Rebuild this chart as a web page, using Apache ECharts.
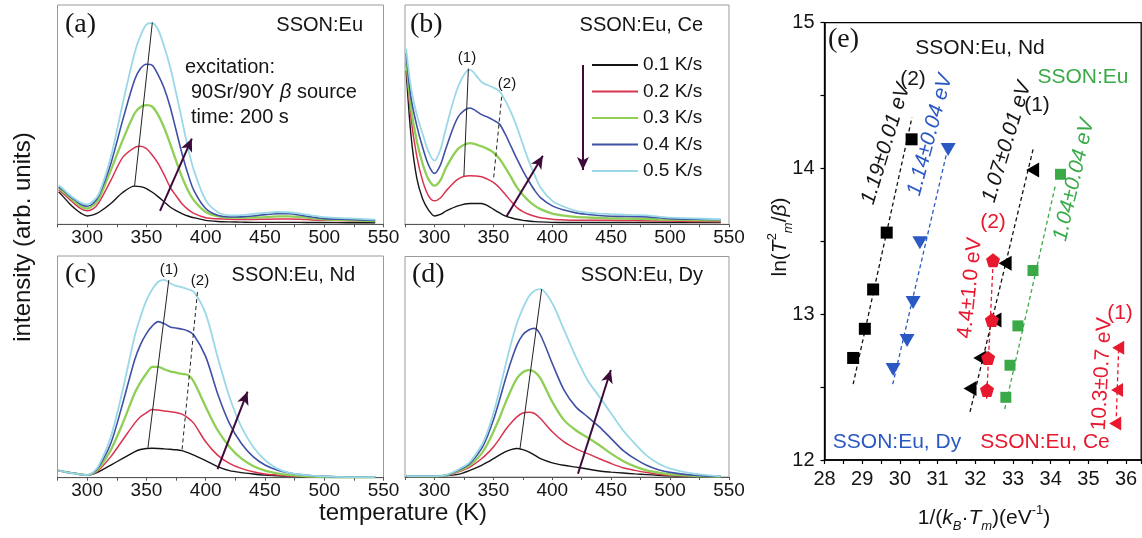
<!DOCTYPE html>
<html><head><meta charset="utf-8">
<script src="https://cdn.jsdelivr.net/npm/echarts@6/dist/echarts.min.js"></script>
<style>html,body{margin:0;padding:0;background:#fff}#c{width:1142px;height:538px}</style>
</head><body><div id="c"></div>
<script>
// ---------- DATA ----------
const rates = ['0.1 K/s','0.2 K/s','0.3 K/s','0.4 K/s','0.5 K/s'];
const T = [276,280,285,290,295,300,305,310,320,330,340,345,350,355,360,365,370,375,380,385,390,400,410,420,430,440,450,460,470,480,490,500,520,543];
// (a) SSON:Eu
const aBlack = [14.8,12.5,9.5,7,5,3.8,4.3,5.5,9.5,14.5,17.4,17.2,16.3,14.6,12.5,10.2,7.9,6.2,4.9,3.8,3,1.8,1.3,1.1,1,0.9,0.9,0.9,0.9,0.9,0.8,0.8,0.7,0.7];
const aRed   = [15.8,14,11.5,9,7,6.2,7,10,20,30.5,35,35.6,34.5,31.5,27.7,22.5,17,13,9.4,6.8,5,3,2.5,2.3,2.2,2.2,2.3,2.4,2.4,2.3,2,1.8,1.6,1.4];
const aGreen = [16.5,14.8,12.5,10,8,7.2,8.5,11.7,24.7,38.4,50.5,53.5,54.3,53.6,49.8,44,36.8,29,21.6,15.5,11,5.6,3.7,3,3,3.1,3.3,3.6,3.6,3.3,2.8,2.3,1.9,1.5];
const aBlue  = [17,15.5,13,11,9,8.2,9.5,13.2,27.7,47.5,65.8,71,73,72.5,68,62,53.6,43,32.3,23,15.5,7.2,4.1,3.3,3.4,3.8,4.4,4.8,4.8,4.1,3.3,2.6,2.2,1.8];
const aCyan  = [17.8,16,13.5,11.5,9.8,9.1,10.5,14,30.7,55,78,86,91,91.8,88.6,81,71.8,60,47.5,35,24.7,11,5.6,4.1,4.2,4.7,5.2,5.6,5.5,4.9,4,3.3,2.7,2.1];
// (b) SSON:Eu, Ce
const bBlack = [70,41,21,11.5,6.5,3.8,4.5,6.1,8.4,9.5,9.5,8.5,6.9,5.3,3.8,3,2.3,1.8,1.5,1.2,1.1,0.9,0.8,0.8,0.8,0.8,0.8,0.8,0.8,0.8,0.8,0.8,0.8,0.8];
const bRed   = [74,48.9,31,19.8,13,10.7,12,15.3,20.6,22.1,21.7,20.6,19.1,16.8,13.7,10.5,7.6,5.8,4.6,3.7,3,2.3,2,1.8,1.8,1.8,1.8,1.7,1.7,1.6,1.5,1.5,1.3,1.2];
const bGreen = [76,53.4,38,27.5,20.5,17.6,20,26,34.4,37,35.5,34.4,32.8,30,26,21.5,16.8,13.5,10.7,8.5,6.9,4.9,4,3.4,3.1,2.9,2.7,2.6,2.5,2.4,2.2,2.1,1.9,1.8];
const bBlue  = [78,58,45,35,27,23.2,27,35,48.9,53,50,48.9,47.5,45.8,41.2,35.5,29.8,24.5,19.8,15.5,12.2,8.4,6.5,5.2,4.5,4,3.7,3.6,3.5,3.4,3,2.6,2.3,2.1];
const bCyan  = [80,62.6,50,41.2,33,29,34,44.3,62.6,70.5,64.9,63.5,62.3,60.8,56.5,51,44.3,36.5,29,22.5,16.8,10.7,8,6.1,5.3,4.9,4.6,4.4,4.2,4.1,3.5,3,2.7,2.3];
// (c) SSON:Eu, Nd
const cBlack = [3.2,2.8,2.3,2,1.5,1.2,1.6,2.7,5.7,8.7,11.7,12.7,13.2,13.3,13.2,13,12.8,12.6,12.2,11.3,10.2,7.7,5,3.2,2.3,1.7,1.2,0.9,0.7,0.5,0.4,0.3,0.2,0.2];
const cRed   = [3.2,2.8,2.3,1.9,1.4,1.2,1.8,3.5,9.5,17,24.5,27.5,29.3,30.8,30.5,30.1,29.8,29.4,28.7,27,24.5,16.2,10.2,6.5,4.2,2.7,1.7,1.2,0.8,0.6,0.4,0.3,0.2,0.2];
const cGreen = [3.2,2.8,2.3,1.9,1.4,1.2,2,4.2,12.5,24.5,38,43,47,50,50,48.9,48,47.4,46.8,46.3,43.3,32,21.5,14,8.7,5.3,3.2,2,1.3,0.8,0.5,0.4,0.2,0.2];
const cBlue  = [3.2,2.8,2.3,1.9,1.4,1.2,2.2,5,15.5,33.5,53,60,65,68.5,70.4,69.5,68,67.5,67,66.2,64.4,54.6,38,24.5,15.5,9.5,5.7,3.5,2.2,1.4,0.9,0.6,0.3,0.2];
const cCyan  = [3.2,2.8,2.3,1.9,1.4,1.2,2.4,5.7,18.5,39.5,63.6,72.5,80,85,88.4,89.2,87.7,86.5,85.9,85,83.9,74,54.6,36.5,23,14,8,4.2,2.3,1.4,0.9,0.6,0.3,0.2];
// (d) SSON:Eu, Dy
const dBlack = [0.5,0.4,0.3,0.3,0.3,0.3,0.4,0.6,1.2,3,5.3,6.7,8.3,9.9,11.4,12.4,12.9,12.4,11.4,9.9,8.3,6.4,5.3,4.5,3.6,2.7,2.2,1.8,1.4,1.1,0.8,0.5,0.3,0.2];
const dRed   = [0.5,0.4,0.4,0.4,0.4,0.4,0.5,0.7,2.3,4.5,8.3,10.7,13.6,17.2,21.2,24.5,27.3,29,29.4,28.8,26.5,20.5,15.9,12.9,10.6,8.3,6.1,4.2,3,2,1.3,0.8,0.4,0.2];
const dGreen = [0.5,0.4,0.4,0.4,0.4,0.4,0.5,0.7,2.7,5.3,10.6,15,20.5,26.5,33.3,39.5,44.7,47.5,48.5,47.7,44.7,34.1,25.8,21.2,17.9,14.4,10.6,7.3,4.8,3,2,1.2,0.5,0.2];
const dBlue  = [0.5,0.4,0.4,0.4,0.4,0.4,0.5,0.8,3,6.1,12.9,18.5,25.8,34.5,43.9,52.5,59.8,64.5,66.7,67.4,64.4,51.5,39.4,31.8,27.3,22.7,17.4,12.1,8.3,5.3,3.3,2.1,0.8,0.2];
const dCyan  = [0.5,0.4,0.4,0.4,0.4,0.4,0.5,0.9,3.3,6.8,14.4,20.5,28.8,39,50,60.5,69.7,76.5,81.8,84.5,85.2,78.8,66.7,54.5,43.9,36.4,28.8,21.2,15.2,9.8,6.1,3.8,1.5,0.3];
// peak guide lines and arrows (data units)
const aPeak = [[340,17.4],[355,92]];
const aArrow = [[361.5,6.1],[388.3,39.1]];
const bPeak1 = [[325,22],[328.8,71]];
const bPeak2 = [[350.3,21.4],[357.3,59.5]];
const bArrow = [[361,3.4],[392,31.3]];
const bLegendArrow = [[426,72.6],[426,24.8]];
const cPeak1 = [[351.3,13.5],[368.9,89.2]];
const cPeak2 = [[380.1,12.8],[393.3,85]];
const cArrow = [[410,3.9],[435.3,38.8]];
const dPeak = [[372.6,12.9],[391,85.2]];
const dArrow = [[421.8,1.5],[449.7,48.5]];
// (e) Arrhenius-type plot: ln(Tm^2/beta) vs 1/(kB Tm)
const eNd2 = [[28.76,12.70],[29.07,12.90],[29.29,13.17],[29.65,13.56],[30.31,14.20]];
const eDy  = [[29.82,12.62],[30.19,12.82],[30.35,13.08],[30.53,13.49],[31.28,14.13]];
const eNd1 = [[31.86,12.49],[32.12,12.70],[32.52,12.96],[32.79,13.35],[33.52,13.99]];
const eCe2 = [[32.31,12.48],[32.34,12.70],[32.44,12.96],[32.47,13.37]];
const eEu  = [[32.81,12.43],[32.92,12.65],[33.13,12.92],[33.53,13.30],[34.26,13.96]];
const eCe1 = [[35.71,12.25],[35.76,12.48],[35.79,12.77]];
const fitNd2 = [[28.76,12.52],[30.32,14.35]];
const fitDy  = [[29.81,12.52],[31.28,14.15]];
const fitNd1 = [[31.86,12.33],[33.54,14.14]];
const fitCe2 = [[32.30,12.42],[32.47,13.35]];
const fitEu  = [[32.78,12.35],[34.12,13.88]];
const fitCe1 = [[35.74,12.30],[35.80,12.75]];

// ---------- STYLE ----------
const SANS = 'Arial, "Liberation Sans", Helvetica, sans-serif';
const SERIF = '"Times New Roman", "Liberation Serif", serif';
const lineColors = ['#151515','#d8344f','#8fcf56','#3f51a5','#9ad8e8'];
const lineWidths = [1.4,1.5,2.3,1.6,1.8];
const ARROW = '#3d0b3a';
const EBLUE = '#2b59c3', ERED = '#e8182e', EGREEN = '#3aaa48';

const panels = [
  {vals:[aBlack,aRed,aGreen,aBlue,aCyan], grid:{left:57.5,top:5,width:326,height:219.3}},
  {vals:[bBlack,bRed,bGreen,bBlue,bCyan], grid:{left:405,top:5,width:324,height:219.3}},
  {vals:[cBlack,cRed,cGreen,cBlue,cCyan], grid:{left:57.5,top:256,width:326,height:221.7}},
  {vals:[dBlack,dRed,dGreen,dBlue,dCyan], grid:{left:405,top:256.5,width:324,height:220.5}}
];
const ml = (pts, style, arrow) => [
  {coord: pts[0], symbol:'none', lineStyle: style},
  {coord: pts[1], symbol: arrow ? 'arrow' : 'none', symbolSize: arrow ? [9,13] : 0}
];
const solid = {color:'#222', width:1, type:'solid'};
const dashed = {color:'#222', width:1, type:[4,3]};
const arr = {color:ARROW, width:2, type:'solid'};
const annotations = [
  [ml(aPeak,solid), ml(aArrow,arr,true)],
  [ml(bPeak1,solid), ml(bPeak2,dashed), ml(bArrow,arr,true), ml(bLegendArrow,arr,true)],
  [ml(cPeak1,solid), ml(cPeak2,dashed), ml(cArrow,arr,true)],
  [ml(dPeak,solid), ml(dArrow,arr,true)]
];

const grids = [], xAxes = [], yAxes = [], series = [];
panels.forEach((p, gi) => {
  grids.push(Object.assign({show:true, borderColor:'#9a9a9a', borderWidth:1, backgroundColor:'transparent', containLabel:false, outerBoundsMode:'none'}, p.grid));
  xAxes.push({gridIndex:gi, type:'value', min:275, max:550, interval:25,
    axisLine:{show:true, onZero:false, lineStyle:{color:'#555', width:1}},
    axisTick:{show:true, length:3, lineStyle:{color:'#555'}},
    axisLabel:{show:true, margin:4, fontSize:19, color:'#151515', fontFamily:SANS,
      formatter: v => (v % 50 === 0 ? String(v) : '')},
    splitLine:{show:false}});
  yAxes.push({gridIndex:gi, type:'value', min:0, max:100, show:false, splitLine:{show:false}});
  p.vals.forEach((vals, ri) => {
    const s = {type:'line', name:rates[ri], xAxisIndex:gi, yAxisIndex:gi,
      data: T.map((t,i)=>[t, vals[i]]), symbol:'none', showSymbol:false, smooth:0.3,
      color: lineColors[ri], itemStyle:{color:lineColors[ri]},
      lineStyle:{color:lineColors[ri], width:lineWidths[ri]}, z:2, silent:true};
    if (ri === 0) {
      s.markLine = {silent:true, animation:false, label:{show:false}, symbol:['none','none'],
        emphasis:{disabled:true}, data: annotations[gi]};
    }
    series.push(s);
  });
});

// panel (e)
grids.push({left:824.5, top:22.7, width:316.7, height:437.3, show:true, borderColor:'#000', borderWidth:1.3, backgroundColor:'transparent', containLabel:false, outerBoundsMode:'none'});
const isInt = v => Math.abs(v - Math.round(v)) < 1e-6;
xAxes.push({gridIndex:4, type:'value', min:28, max:36.4, interval:0.5,
  axisLine:{show:true, onZero:false, lineStyle:{color:'#000', width:1.5}},
  axisTick:{show:true, length:4, lineStyle:{color:'#000', width:1.2}},
  axisLabel:{show:true, margin:9, fontSize:20, color:'#151515', fontFamily:SANS,
    formatter: v => (isInt(v) ? String(Math.round(v)) : '')},
  splitLine:{show:false}});
yAxes.push({gridIndex:4, type:'value', min:12, max:15, interval:0.5,
  axisLine:{show:true, onZero:false, lineStyle:{color:'#000', width:1.5}},
  axisTick:{show:true, length:4, lineStyle:{color:'#000', width:1.2}},
  axisLabel:{show:true, margin:10, fontSize:20, color:'#151515', fontFamily:SANS,
    formatter: v => (isInt(v) ? String(Math.round(v)) : '')},
  splitLine:{show:false}});

const fit = (d, c) => ({type:'line', xAxisIndex:4, yAxisIndex:4, data:d, symbol:'none', silent:true,
  lineStyle:{color:c, width:1.3, type:[4,3]}, z:2});
series.push(fit(fitNd2,'#111'), fit(fitDy,EBLUE), fit(fitNd1,'#111'), fit(fitCe2,ERED), fit(fitEu,EGREEN), fit(fitCe1,ERED));
const PENT = 'path://M50,0 L97.6,34.5 L79.4,90.5 L20.6,90.5 L2.4,34.5 Z';
const sc = (d, c, sym, size, rot) => ({type:'scatter', xAxisIndex:4, yAxisIndex:4, data:d, symbol:sym,
  symbolSize:size, symbolRotate:rot||0, itemStyle:{color:c, opacity:1}, silent:true, z:3});
series.push(
  sc(eNd2,'#000','rect',12),
  sc(eDy,EBLUE,'triangle',[15,13],180),
  sc(eNd1,'#000','triangle',[15,13],90),
  sc(eCe2,ERED,PENT,14),
  sc(eEu,EGREEN,'rect',11),
  sc(eCe1,ERED,'triangle',[14,12],90)
);

// ---------- TEXT ----------
const txt = (text, x, y, o) => Object.assign({type:'text', x:x, y:y, silent:true,
  style:Object.assign({text:text, fill:'#151515', fontSize:20, fontFamily:SANS, align:'left', verticalAlign:'middle'}, (o&&o.style)||{})},
  o && o.rotation !== undefined ? {rotation:o.rotation} : {});
const deg = a => a*Math.PI/180;
const richBase = (c, fs) => ({
  n:{fontSize:fs, fontFamily:SANS, fill:c, color:c, lineHeight:fs+8},
  i:{fontSize:fs, fontFamily:SANS, fontStyle:'italic', fill:c, color:c, lineHeight:fs+8},
  sup:{fontSize:Math.round(fs*0.62), fontFamily:SANS, fill:c, color:c, lineHeight:Math.round(fs*0.62), verticalAlign:'top'},
  sub:{fontSize:Math.round(fs*0.62), fontFamily:SANS, fontStyle:'italic', fill:c, color:c, lineHeight:Math.round(fs*0.62), verticalAlign:'bottom'}
});
const graphics = [
  txt('(a)', 65, 25, {style:{fontFamily:SERIF, fontSize:28}}),
  txt('(b)', 410, 25, {style:{fontFamily:SERIF, fontSize:28}}),
  txt('(c)', 65, 275, {style:{fontFamily:SERIF, fontSize:28}}),
  txt('(d)', 412, 275, {style:{fontFamily:SERIF, fontSize:28}}),
  txt('SSON:Eu', 363, 25, {style:{align:'right'}}),
  txt('SSON:Eu, Ce', 703, 25, {style:{align:'right'}}),
  txt('SSON:Eu, Nd', 355, 275, {style:{align:'right'}}),
  txt('SSON:Eu, Dy', 703, 275, {style:{align:'right'}}),
  txt('excitation:', 185, 67),
  txt('{n|90Sr/90Y }{i|β}{n| source}', 191, 92, {style:{rich:richBase('#151515',20)}}),
  txt('time: 200 s', 191, 117),
  txt('(1)', 467, 58, {style:{fontSize:15, align:'center'}}),
  txt('(2)', 507, 84, {style:{fontSize:15, align:'center'}}),
  txt('(1)', 169, 270, {style:{fontSize:15, align:'center'}}),
  txt('(2)', 200, 281, {style:{fontSize:15, align:'center'}}),
  txt('intensity (arb. units)', 23, 237, {rotation:Math.PI/2, style:{fontSize:24, align:'center'}}),
  txt('temperature (K)', 403, 513, {style:{fontSize:24, align:'center'}}),
  // panel (e)
  txt('(e)', 828, 40, {style:{fontFamily:SERIF, fontSize:28}}),
  txt('SSON:Eu, Nd', 980, 48, {style:{align:'center', fontSize:21}}),
  txt('SSON:Eu', 1083, 77, {style:{align:'center', fontSize:21, fill:EGREEN}}),
  txt('SSON:Eu, Dy', 897, 442, {style:{align:'center', fontSize:21, fill:EBLUE}}),
  txt('SSON:Eu, Ce', 1045, 442, {style:{align:'center', fontSize:21, fill:ERED}}),
  txt('(2)', 913, 79, {style:{align:'center', fontSize:21}}),
  txt('(1)', 1037, 105, {style:{align:'center', fontSize:21}}),
  txt('(2)', 993, 222, {style:{align:'center', fontSize:21, fill:ERED}}),
  txt('(1)', 1120, 313, {style:{align:'center', fontSize:21, fill:ERED}}),
  txt('1.19±0.01 eV', 886, 144, {rotation:deg(73), style:{align:'center', fontSize:21, fontStyle:'italic'}}),
  txt('1.14±0.04 eV', 930, 135, {rotation:deg(75), style:{align:'center', fontSize:21, fontStyle:'italic', fill:EBLUE}}),
  txt('1.07±0.01 eV', 1007, 142, {rotation:deg(73), style:{align:'center', fontSize:21, fontStyle:'italic'}}),
  txt('1.04±0.04 eV', 1074, 180, {rotation:deg(77), style:{align:'center', fontSize:21, fontStyle:'italic', fill:EGREEN}}),
  txt('4.4±1.0 eV', 970, 288, {rotation:deg(84), style:{align:'center', fontSize:21, fill:ERED}}),
  txt('10.3±0.7 eV', 1102, 374, {rotation:deg(87), style:{align:'center', fontSize:21, fill:ERED}}),
  txt('{n|ln(}{i|T}{sup|2}{sub|m}{n|/}{i|β}{n|)}', 780, 237, {rotation:Math.PI/2, style:{align:'center', rich:richBase('#151515',21)}}),
  txt('{n|1/(}{i|k}{sub|B}{n|·}{i|T}{sub|m}{n|)(eV}{sup|-1}{n|)}', 984, 518, {style:{align:'center', rich:richBase('#151515',21)}})
];

const chart = echarts.init(document.getElementById('c'), null, {renderer:'canvas', width:1142, height:538});
chart.setOption({
  animation:false,
  backgroundColor:'#fff',
  legend:{show:true, data:rates.map(r => ({name:r, icon:'rect'})), orient:'vertical', left:592, top:55, padding:0,
    itemWidth:46, itemHeight:2, itemGap:6.5, selectedMode:false,
    textStyle:{fontSize:19, lineHeight:20, color:'#151515', fontFamily:SANS}},
  grid:grids, xAxis:xAxes, yAxis:yAxes, series:series, graphic:graphics
});
</script></body></html>
